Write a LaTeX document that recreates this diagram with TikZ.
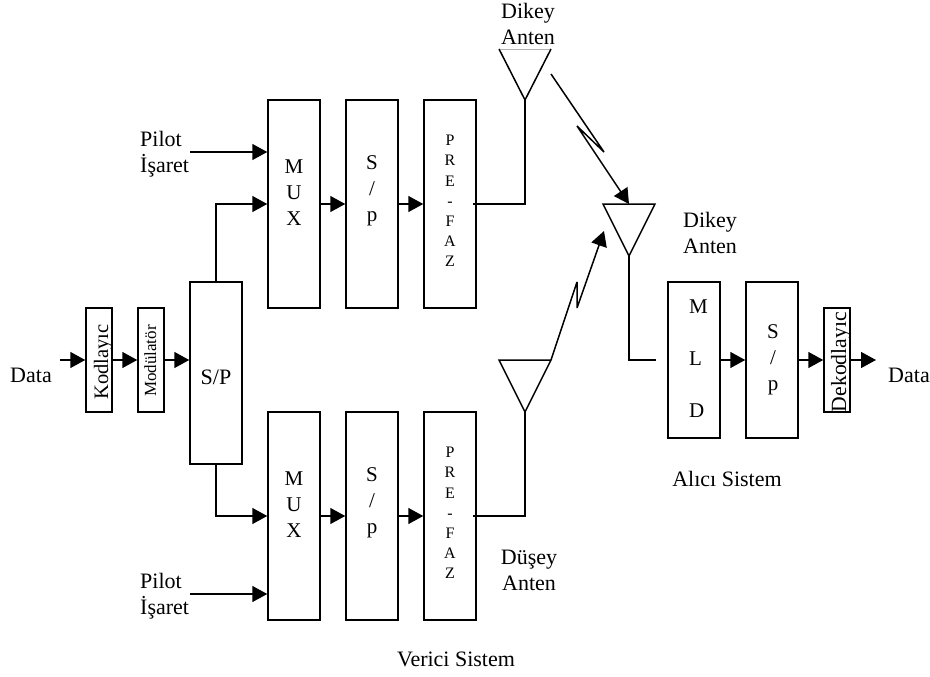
\documentclass[tikz,border=0pt]{standalone}
\usepackage{fontspec}
\setmainfont{Liberation Serif}
\usetikzlibrary{arrows.meta}
\tikzset{
 x=1pt,y=-1pt,
 box/.style={draw,line width=1.5pt,inner sep=0pt,align=center},
 wire/.style={line width=1.5pt},
 arr/.style={wire,-{Triangle[length=15pt,width=16pt]}},
 lbl/.style={font=\fontsize{22}{26}\selectfont,inner sep=0pt,align=center},
 stack/.style={font=\fontsize{21}{26}\selectfont,inner sep=0pt,align=center},
 small/.style={font=\fontsize{16}{20.2}\selectfont,inner sep=0pt,align=center},
 vert/.style={inner sep=0pt,rotate=90,anchor=base},
}
\begin{document}
\begin{tikzpicture}
\useasboundingbox (0,0) rectangle (930,677);
\newcommand{\bx}[5]{\node[box,minimum width=#4 pt-#2 pt,minimum height=#5 pt-#3 pt] (#1) at ({(#2+#4)/2},{(#3+#5)/2}) {};}
\bx{kod}{86}{308}{112}{412}
\bx{mod}{138}{308}{164}{412}
\bx{sp}{190}{282}{242}{464}
\bx{mux1}{268}{100}{320}{308}
\bx{sp1}{346}{100}{398}{308}
\bx{pre1}{424}{100}{476}{308}
\bx{mux2}{268}{412}{320}{620}
\bx{sp2}{346}{412}{398}{620}
\bx{pre2}{424}{412}{476}{620}
\bx{mld}{668}{282}{720}{438}
\bx{spr}{746}{282}{798}{438}
\bx{dek}{824}{308}{850}{412}
\node[vert,font=\fontsize{20.5}{24}\selectfont] (kodt) at (108,362) {Kodlayıc};
\node[vert,font=\fontsize{17}{20}\selectfont] (modt) at (156,361) {Modülatör};
\node[vert,font=\fontsize{21.7}{24}\selectfont] (dekt) at (846,362) {Dekodlayıc};
\node[lbl] (spt) at (216,377) {S/P};
\node[stack] (mux1t) at (294,193) {M\\U\\X};
\node[stack] (sp1t) at (372,191) {S\\/\\p};
\node[small] (pre1t) at (450,201) {P\\R\\E\\-\\F\\A\\Z};
\node[stack] (mux2t) at (294,505) {M\\U\\X};
\node[stack] (sp2t) at (372,503) {S\\/\\p};
\node[small] (pre2t) at (450,513) {P\\R\\E\\-\\F\\A\\Z};
\node[stack,font=\fontsize{21}{52}\selectfont,align=left,anchor=west] (mldt) at (689,359) {M\\L\\D};
\node[stack] (sprt) at (773,360) {S\\/\\p};
\node[lbl] (data1) at (31,375) {Data};
\node[lbl] (data2) at (909,375) {Data};
\node[lbl,align=left,anchor=west] (pil1) at (140,154) {Pilot\\İşaret};
\node[lbl,align=left,anchor=west] (pil2) at (140,596) {Pilot\\İşaret};
\node[lbl] (ant1) at (528,24) {Dikey\\Anten};
\node[lbl] (ant2) at (710,233) {Dikey\\Anten};
\node[lbl] (ant3) at (529,570) {Düşey\\Anten};
\node[lbl] (ver) at (456,659) {Verici Sistem};
\node[lbl] (ali) at (727,479) {Alıcı Sistem};
\coordinate (d1) at (60,360);
\coordinate (d2) at (876,360);
\coordinate (p1) at (190,152);
\coordinate (p2) at (190,594);
\draw[arr] (d1) -- (kod.west|-d1);
\draw[arr] (kod.east|-d1) -- (mod.west|-d1);
\draw[arr] (mod.east|-d1) -- (sp.west|-d1);
\draw[arr] (p1) -- (mux1.west|-p1);
\draw[arr] (p2) -- (mux2.west|-p2);
\draw[arr] (sp.north) |- (mux1.west|-0,204);
\draw[arr] (sp.south) |- (mux2.west|-0,516);
\foreach \m/\s/\p/\y in {mux1/sp1/pre1/204,mux2/sp2/pre2/516}{
 \draw[arr] (\m.east|-0,\y) -- (\s.west|-0,\y);
 \draw[arr] (\s.east|-0,\y) -- (\p.west|-0,\y);
}
\draw[arr] (mld.east|-d2) -- (spr.west|-d2);
\draw[arr] (spr.east|-d2) -- (dek.west|-d2);
\draw[arr] (dek.east|-d2) -- (d2);
% antennas
\coordinate (t1a) at (499,49); \coordinate (t1b) at (551,49); \coordinate (t1c) at (525,100);
\coordinate (t2a) at (603,204); \coordinate (t2b) at (655,204); \coordinate (t2c) at (629,256); \coordinate (t2n) at (629,204);
\coordinate (t3a) at (499,360); \coordinate (t3b) at (551,360); \coordinate (t3c) at (525,412);
\draw[line width=.5pt,gray!60] (t1a) -- (t1b);
\draw[wire] (t1a) -- (t1c) -- (t1b);
\draw[wire] (t2a) -- (t2b) -- (t2c) -- cycle;
\draw[wire] (t3a) -- (t3b) -- (t3c) -- cycle;
\coordinate (w1) at (473,204); \coordinate (w2) at (473,516);
\draw[wire] (w1) -| (t1c);
\draw[wire] (w2) -| (t3c);
\coordinate (w3) at (656,360);
\draw[wire] (t2c) |- (w3);
% lightning
\coordinate (l1) at (551,74); \coordinate (l2) at (604,152); \coordinate (l3) at (577,126);
\draw[arr,line join=bevel] (l1) -- (l2) -- (l3) -- (t2n);
\coordinate (l5) at (577,282); \coordinate (l6) at (577,308); \coordinate (l7) at (604,231);
\draw[arr,line join=bevel] (t3b) -- (l5) -- (l6) -- (l7);
\end{tikzpicture}
\end{document}
